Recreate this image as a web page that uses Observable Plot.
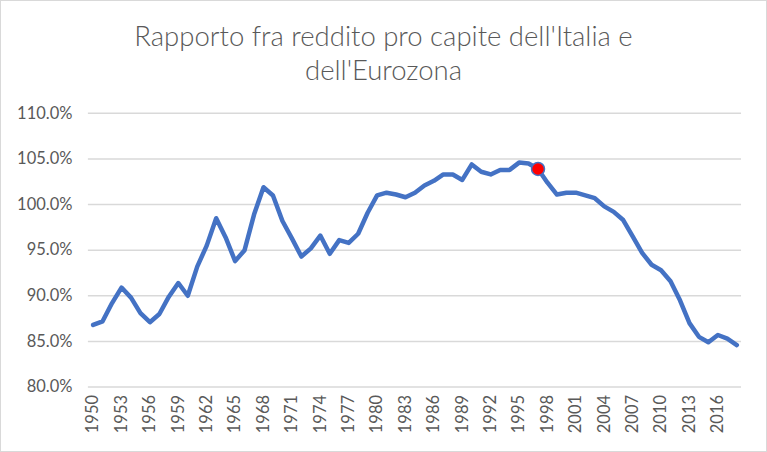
<!DOCTYPE html>
<html><head><meta charset="utf-8">
<script src="https://cdn.jsdelivr.net/npm/d3@7"></script>
<script src="https://cdn.jsdelivr.net/npm/@observablehq/plot@0.6"></script>
<style>
body{margin:0;background:#fff;}
#wrap{position:relative;width:767px;height:452px;box-sizing:border-box;border:1px solid #d9d9d9;overflow:hidden;font-family:Lato,sans-serif;background:#fff;}
#title{position:absolute;left:0;right:0;top:18px;text-align:center;font-size:27.5px;font-weight:300;color:#595959;line-height:34px;}
#chart{position:absolute;left:-1px;top:-1px;}
</style></head><body>
<div id="wrap"><div id="chart"></div><div id="title">Rapporto fra reddito pro capite dell'Italia e<br>dell'Eurozona</div></div>
<script>
const years = [1950,1951,1952,1953,1954,1955,1956,1957,1958,1959,
  1960,1961,1962,1963,1964,1965,1966,1967,1968,1969,
  1970,1971,1972,1973,1974,1975,1976,1977,1978,1979,
  1980,1981,1982,1983,1984,1985,1986,1987,1988,1989,
  1990,1991,1992,1993,1994,1995,1996,1997,1998,1999,
  2000,2001,2002,2003,2004,2005,2006,2007,2008,2009,
  2010,2011,2012,2013,2014,2015,2016,2017,2018];
const ratio = [86.8,87.2,89.2,90.9,89.8,88.1,87.1,88.0,89.9,91.4,
  90.0,93.2,95.5,98.5,96.4,93.8,95.0,98.9,101.9,101.0,
  98.2,96.3,94.3,95.2,96.6,94.6,96.1,95.8,96.8,99.1,
  101.0,101.3,101.1,100.8,101.3,102.1,102.6,103.3,103.3,102.7,
  104.4,103.6,103.3,103.8,103.8,104.6,104.5,103.9,102.4,101.1,
  101.3,101.3,101.0,100.7,99.8,99.2,98.3,96.5,94.7,93.4,
  92.8,91.6,89.5,87.0,85.5,84.9,85.7,85.3,84.6];
const xTicks = [1950,1953,1956,1959,1962,1965,1968,1971,1974,1977,1980,1983,1986,1989,1992,1995,1998,2001,2004,2007,2010,2013,2016];
const yTicks = [80,85,90,95,100,105,110];
const highlightYear = [1997];

const data = years.map((y, i) => ({year: y, value: ratio[i]}));
const highlight = data.filter(d => highlightYear.includes(d.year));

const chart = Plot.plot({
  width: 767, height: 452,
  marginTop: 113, marginBottom: 65, marginLeft: 88, marginRight: 25,
  x: {type: "linear", domain: [1949.5, 2018.5]},
  y: {domain: [80, 110]},
  style: {fontFamily: "Lato, sans-serif", fontSize: "16.5px", color: "#595959", background: "transparent"},
  marks: [
    Plot.ruleY(yTicks, {stroke: "#d9d9d9", strokeWidth: 1.5}),
    Plot.axisY({ticks: yTicks, tickSize: 0, tickPadding: 16, tickFormat: d => d.toFixed(1) + "%", label: null}),
    Plot.axisX({ticks: xTicks, tickSize: 0, tickRotate: -90, tickPadding: 8, tickFormat: d => String(d), label: null}),
    Plot.line(data, {x: "year", y: "value", stroke: "#4472C4", strokeWidth: 4.5, strokeLinejoin: "round", strokeLinecap: "round"}),
    Plot.dot(highlight, {x: "year", y: "value", r: 6.5, fill: "#ff0000", stroke: "#4472C4", strokeWidth: 1.5})
  ]
});
document.getElementById("chart").appendChild(chart);
</script>
</body></html>
